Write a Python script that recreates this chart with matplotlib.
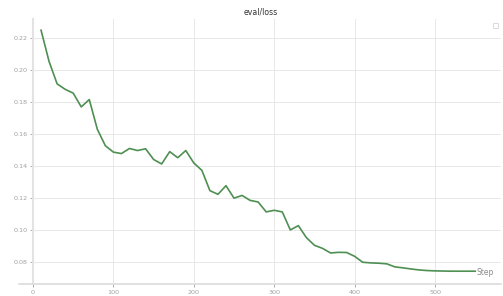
import matplotlib.pyplot as plt
from matplotlib.lines import Line2D
from matplotlib.patches import Rectangle

steps = list(range(10, 560, 10))
loss = [0.225, 0.2054, 0.1914, 0.188, 0.1856, 0.177, 0.1816, 0.163, 0.1527, 0.1487,
        0.1478, 0.151, 0.1497, 0.1508, 0.1441, 0.1413, 0.149, 0.1452, 0.1497, 0.1419,
        0.1373, 0.1246, 0.1223, 0.1277, 0.1199, 0.1216, 0.1185, 0.1175, 0.1113, 0.1123,
        0.1113, 0.1000, 0.1027, 0.0952, 0.0904, 0.0885, 0.0856, 0.0860, 0.0859, 0.0835,
        0.0798, 0.0794, 0.0792, 0.0788, 0.0769, 0.0763, 0.0756, 0.0750, 0.0746, 0.0744,
        0.0743, 0.0742, 0.0742, 0.0742, 0.0742]
xticks = [0, 100, 200, 300, 400, 500]
yticks = [0.08, 0.10, 0.12, 0.14, 0.16, 0.18, 0.20, 0.22]

W, H = 503, 296
fig = plt.figure(figsize=(W / 100, H / 100), dpi=100)
ax = fig.add_axes([33 / W, 11.7 / H, (501 - 33) / W, (284.3 - 19) / H])

ax.plot(steps, loss, color='#4e8f52', linewidth=1.2, solid_joinstyle='round')

ax.set_xlim(0, 582)
ax.set_ylim(0.066, 0.232)
ax.set_xticks(xticks)
ax.set_yticks(yticks)
ax.set_yticklabels([f"{v:.2f}" for v in yticks])
ax.grid(True, color='#e8e8e8', linewidth=0.7)
ax.set_axisbelow(True)

for side in ['top', 'right', 'bottom']:
    ax.spines[side].set_visible(False)
ax.spines['left'].set_color('#e3e3e3')
ax.spines['left'].set_linewidth(1.5)
ax.tick_params(axis='both', labelsize=4.6, labelcolor='#a0a0a0', color='#888888',
               length=2, width=0.5, pad=2)

# x axis line extends to the left of the y spine
fig.add_artist(Line2D([19 / W, 501 / W], [1 - 284.3 / H] * 2, color='#dcdcdc', linewidth=1.2))

fig.text(260.7 / W, 1 - 12 / H, "eval/loss", ha='center', va='center', fontsize=5.6, color='#333333')
ax.text(steps[-1] + 2, 0.0733, "Step", ha='left', va='center', fontsize=5.5, color='#8a8a8a')
fig.add_artist(Rectangle((492.5 / W, 1 - 28 / H), 5 / W, 5 / H, fill=False,
                         edgecolor='#cccccc', linewidth=0.5))

fig.savefig("out.png", dpi=100)
